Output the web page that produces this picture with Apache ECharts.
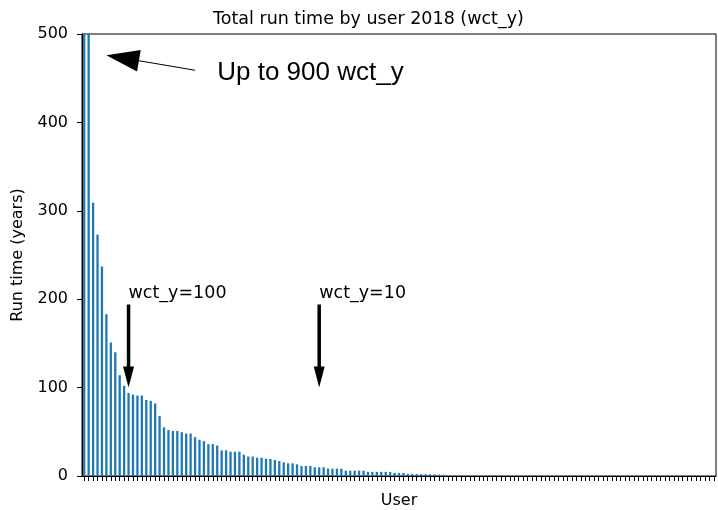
<!DOCTYPE html>
<html>
<head>
<meta charset="utf-8">
<script src="https://cdn.jsdelivr.net/npm/echarts@6/dist/echarts.min.js"></script>
<style>html,body{margin:0;padding:0;background:#fff}#c{width:718px;height:510px}</style>
</head>
<body>
<div id="c"></div>
<script>
const titleText = 'Total run time by user 2018 (wct_y)';
const yAxisName = 'Run time (years)';
const xAxisName = 'User';
const yTicks = [0, 100, 200, 300, 400, 500];
const runTime = [
  900, 620, 309, 273, 237, 183, 151, 140, 114, 102,
  94, 92, 91, 91, 86, 85, 82, 68, 55, 52,
  51, 51, 49.5, 48, 48, 44, 41, 39.5, 36, 36,
  34.5, 29, 29, 27.5, 27.5, 27.5, 24, 22, 22, 20.7,
  20.7, 19.6, 19.2, 18.1, 17, 15.5, 14.3, 14.3, 13.2, 11.3,
  11.3, 11.3, 9.8, 9.8, 9.8, 8.3, 8.3, 8.3, 8.3, 6,
  6, 6, 6, 6, 4.7, 4.7, 4.7, 4.7, 4.7, 4.5,
  3.5, 3.5, 3.4, 2.4, 2.3, 2.2, 2.1, 2.0, 1.9, 1.8,
  1.6, 1.5,
  0.3, 0.28, 0.26, 0.24, 0.22, 0.2, 0.19, 0.18, 0.17, 0.16,
  0.15, 0.14, 0.13, 0.12, 0.11, 0.1, 0.1, 0.09, 0.09, 0.08,
  0.08, 0.07, 0.07, 0.06, 0.06, 0.05, 0.05, 0.05, 0.04, 0.04,
  0.04, 0.03, 0.03, 0.03, 0.03, 0.02, 0.02, 0.02, 0.02, 0.02,
  0.01, 0.01, 0.01, 0.01, 0.01, 0.01, 0.01, 0.005, 0.005, 0.005,
  0.005, 0.005, 0.004, 0.003, 0.002, 0.002, 0.001, 0.001, 0.001, 0.001,
  0.001
];
const users = runTime.map((v, i) => 'user' + (i + 1));

// annotations: text anchor (category index, value), arrow from, arrow tip
const notes = [
  { text: 'Up to 900 wct_y', textAt: [29.5, 456], from: [25, 459], to: [5, 476], big: true },
  { text: 'wct_y=100', textAt: [9.8, 196], from: [10, 194], to: [10, 100], big: false },
  { text: 'wct_y=10', textAt: [53.4, 196], from: [53, 194], to: [53, 100], big: false }
];

const chart = echarts.init(document.getElementById('c'), null, { renderer: 'canvas' });
const FONT = 'DejaVu Sans';
chart.setOption({
  animation: false,
  backgroundColor: '#fff',
  title: {
    text: titleText, left: 208, top: 5,
    textStyle: { fontFamily: FONT, fontSize: 17.5, fontWeight: 'normal', color: '#000' }
  },
  grid: { left: 82, right: 2, top: 34, bottom: 34, outerBoundsMode: 'none', containLabel: false,
    show: true, borderColor: '#000', borderWidth: 1, backgroundColor: 'transparent' },
  xAxis: {
    type: 'category', data: users,
    name: xAxisName, nameLocation: 'middle', nameGap: 17,
    nameTextStyle: { fontFamily: FONT, fontSize: 16, color: '#000' },
    axisLine: { lineStyle: { color: '#000', width: 1 } },
    axisTick: { show: true, interval: 0, alignWithLabel: true, length: 5, lineStyle: { color: '#000' } },
    axisLabel: { show: false },
    splitLine: { show: false }
  },
  yAxis: {
    type: 'value', min: yTicks[0], max: yTicks[yTicks.length - 1], interval: 100,
    name: yAxisName, nameLocation: 'middle', nameGap: 56, nameRotate: 90,
    nameTextStyle: { fontFamily: FONT, fontSize: 16, color: '#000' },
    axisLine: { show: true, lineStyle: { color: '#000', width: 1 } },
    axisTick: { show: true, length: 5, lineStyle: { color: '#000' } },
    axisLabel: { fontFamily: FONT, fontSize: 16, color: '#000', margin: 14 },
    splitLine: { show: false }
  },
  series: [{
    type: 'bar', data: runTime, barWidth: '52%', clip: true,
    itemStyle: { color: '#1f77b4' }
  }]
});

function px(p) { return chart.convertToPixel({ gridIndex: 0 }, p); }
const g = [];
notes.forEach(n => {
  const a = px(n.from), b = px(n.to), t = px(n.textAt);
  const dx = b[0] - a[0], dy = b[1] - a[1];
  const L = Math.hypot(dx, dy), ux = dx / L, uy = dy / L, nx = -uy, ny = ux;
  const hl = n.big ? 33 : 21, hw = n.big ? 11 : 5.5, sw = n.big ? 1 : 3.5;
  const base = [b[0] - ux * hl, b[1] - uy * hl];
  g.push({ type: 'line', shape: { x1: a[0], y1: a[1], x2: base[0] + ux * 2, y2: base[1] + uy * 2 }, style: { stroke: '#000', lineWidth: sw }, z: 10 });
  g.push({ type: 'polygon', shape: { points: [[b[0], b[1]], [base[0] + nx * hw, base[1] + ny * hw], [base[0] - nx * hw, base[1] - ny * hw]] }, style: { fill: '#000' }, z: 10 });
  g.push({ type: 'text', x: t[0], y: t[1], style: {
    text: n.text, fill: '#000',
    font: n.big ? '26px "Liberation Sans"' : '17.5px "DejaVu Sans"',
    textAlign: 'left', textVerticalAlign: n.big ? 'middle' : 'bottom'
  }, z: 10 });
});
chart.setOption({ graphic: g });
</script>
</body>
</html>
